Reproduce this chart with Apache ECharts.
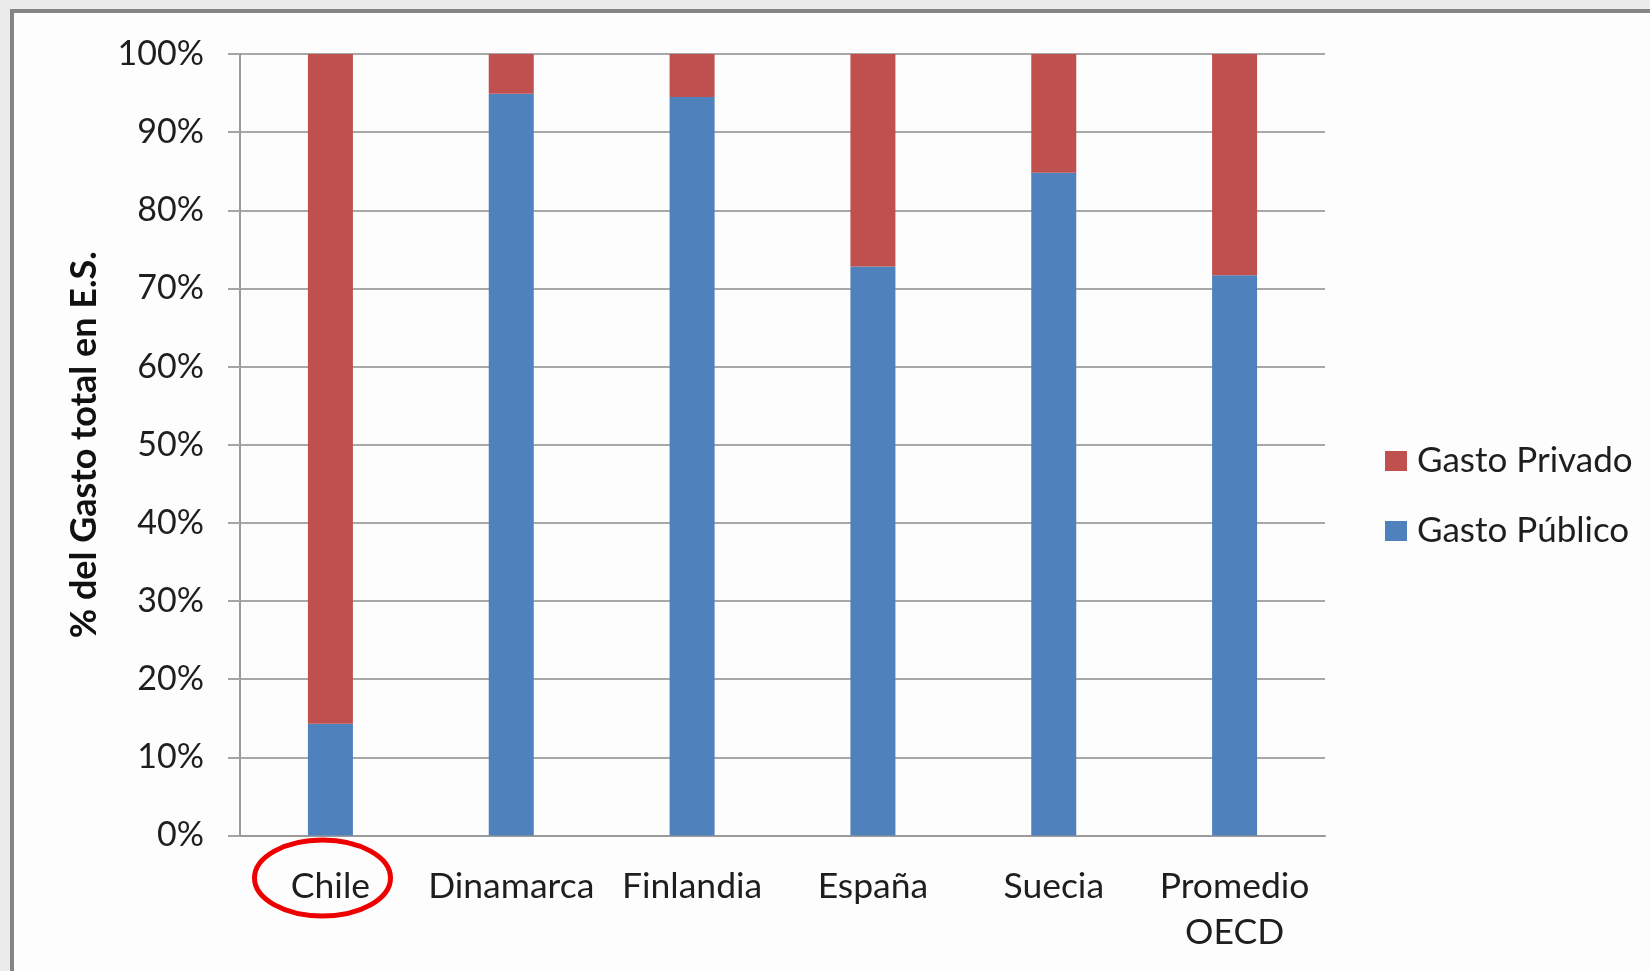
<!DOCTYPE html>
<html>
<head>
<meta charset="utf-8">
<script src="https://cdn.jsdelivr.net/npm/echarts@6/dist/echarts.min.js"></script>
<style>
  html, body { margin: 0; padding: 0; background: #ebebeb; }
  #frame { position: absolute; left: 10px; top: 9px; width: 1640px; height: 962px;
           background: #fdfdfd; border-left: 4px solid #858585; border-top: 4px solid #858585; box-sizing: border-box; }
  #chart { position: absolute; left: 0; top: 0; width: 1650px; height: 971px; }
</style>
</head>
<body>
<div id="frame"></div>
<div id="chart"></div>
<script>
const categories = ['Chile', 'Dinamarca', 'Finlandia', 'España', 'Suecia', 'Promedio\nOECD'];
const gastoPublico = [14.3, 94.9, 94.5, 72.8, 84.8, 71.7];
const gastoPrivado = [85.7, 5.1, 5.5, 27.2, 15.2, 28.3];
const seriesNames = ['Gasto Privado', 'Gasto Público'];
const yTicks = { min: 0, max: 100, interval: 10 };
const yTitle = '% del Gasto total en E.S.';

const chart = echarts.init(document.getElementById('chart'), null, { renderer: 'canvas' });
const FONT = 'Lato, "Open Sans", sans-serif';
const option = {
  backgroundColor: 'transparent',
  animation: false,
  grid: { left: 240, right: 325, top: 54, bottom: 135.5, containLabel: false },
  legend: {
    data: [seriesNames[0], seriesNames[1]],
    orient: 'vertical',
    left: 1380,
    top: 436,
    itemWidth: 22,
    itemHeight: 20,
    itemGap: 30,
    icon: 'rect',
    textStyle: { fontFamily: FONT, fontSize: 35, color: '#1e1e1e', lineHeight: 40, padding: [0, 0, 0, 5] }
  },
  xAxis: {
    type: 'category',
    data: categories,
    axisLine: { show: true, lineStyle: { color: '#9a9a9a', width: 2 } },
    axisTick: { show: false },
    axisLabel: { fontFamily: FONT, fontSize: 35.5, color: '#1e1e1e', margin: 28, lineHeight: 46, interval: 0 },
    splitLine: { show: false }
  },
  yAxis: {
    type: 'value',
    min: yTicks.min, max: yTicks.max, interval: yTicks.interval,
    name: yTitle,
    nameLocation: 'middle',
    nameRotate: 90,
    nameGap: 138,
    nameTextStyle: { fontFamily: FONT, fontSize: 36, fontWeight: 'bold', color: '#111' },
    axisLine: { show: true, lineStyle: { color: '#9a9a9a', width: 2 } },
    axisTick: { show: true, length: 12, lineStyle: { color: '#a5a5a5', width: 2 } },
    axisLabel: { fontFamily: FONT, fontSize: 34, color: '#1e1e1e', margin: 36, formatter: '{value}%' },
    splitLine: { show: true, lineStyle: { color: '#a8a8a8', width: 2 } }
  },
  series: [
    {
      name: seriesNames[1], type: 'bar', stack: 'total', data: gastoPublico,
      barWidth: 45, itemStyle: { color: '#4F81BD' }
    },
    {
      name: seriesNames[0], type: 'bar', stack: 'total', data: gastoPrivado,
      barWidth: 45, itemStyle: { color: '#C0504D' }
    }
  ],
  graphic: [
    {
      type: 'ellipse',
      shape: { cx: 322.5, cy: 878, rx: 68, ry: 38 },
      style: { fill: 'none', stroke: '#ee0000', lineWidth: 5 },
      z: 100
    }
  ]
};
chart.setOption(option);
</script>
</body>
</html>
